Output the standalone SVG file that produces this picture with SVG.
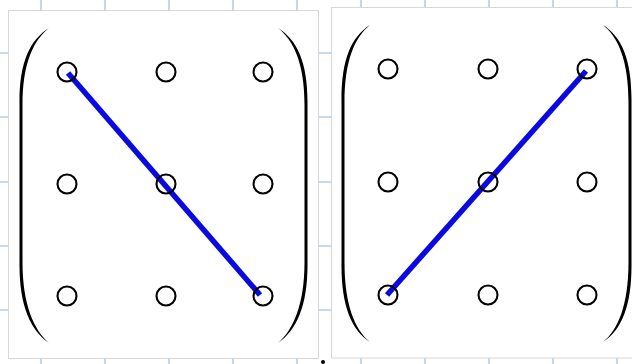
<svg xmlns="http://www.w3.org/2000/svg" width="632" height="364" viewBox="0 0 632 364">
<style>
.grid line{stroke:#b7cee0;stroke-width:1.6}
.box{fill:#fff;stroke:#d4d8dc;stroke-width:1}
.pin{fill:none;stroke:#000;stroke-width:2.1}
.paren{fill:#000}
.link{stroke:#0a0ae0;stroke-width:5.5;stroke-linecap:butt}
</style>
<rect width="632" height="364" fill="#fff"/>
<g class="grid">
<line x1="41" y1="0" x2="41" y2="364"/><line x1="105" y1="0" x2="105" y2="364"/><line x1="169" y1="0" x2="169" y2="364"/><line x1="233" y1="0" x2="233" y2="364"/><line x1="297" y1="0" x2="297" y2="364"/><line x1="361" y1="0" x2="361" y2="364"/><line x1="425" y1="0" x2="425" y2="364"/><line x1="489" y1="0" x2="489" y2="364"/><line x1="553" y1="0" x2="553" y2="364"/><line x1="617" y1="0" x2="617" y2="364"/>
<line x1="0" y1="53" x2="632" y2="53"/><line x1="0" y1="117" x2="632" y2="117"/><line x1="0" y1="182" x2="632" y2="182"/><line x1="0" y1="246" x2="632" y2="246"/><line x1="0" y1="310" x2="632" y2="310"/>
</g>
<rect class="box" x="8.5" y="10.5" width="310" height="348"/>
<rect class="box" x="331.5" y="7.5" width="310" height="350.5"/>
<circle cx="323" cy="362" r="2" fill="#000"/>
<g id="parens-left">
<path class="paren" d="M49,28 C30,40 19,62 19.5,105 L19.5,262 C19,305 30,330 49,343 C34,330 22.5,305 22.5,262 L22.5,105 C22.5,62 34,40 49,28 Z"/>
<path class="paren" d="M278,28 C297,40 308,62 307.5,105 L307.5,262 C308,305 297,330 278,343 C293,330 304.5,305 304.5,262 L304.5,105 C304.5,62 293,40 278,28 Z"/>
</g>
<g id="parens-right">
<path class="paren" d="M370,25 C351,37 341,60 341.5,103 L341.5,262 C341,305 351,330 370,342 C355,330 344.5,305 344.5,262 L344.5,103 C344.5,60 355,37 370,25 Z"/>
<path class="paren" d="M603,25 C622,37 632,60 631.5,103 L631.5,262 C632,305 622,330 603,342 C618,330 628.5,305 628.5,262 L628.5,103 C628.5,60 618,37 603,25 Z"/>
</g>
<g id="connectors">
<line class="link" x1="68" y1="73" x2="260" y2="295"/>
<line class="link" x1="387" y1="295" x2="586" y2="71"/>
</g>
<g id="L11"><circle class="pin" cx="67" cy="72" r="9.5"/></g>
<g id="L12"><circle class="pin" cx="166" cy="72" r="9.5"/></g>
<g id="L13"><circle class="pin" cx="263" cy="72" r="9.5"/></g>
<g id="L21"><circle class="pin" cx="67" cy="184" r="9.5"/></g>
<g id="L22"><circle class="pin" cx="166" cy="184" r="9.5"/></g>
<g id="L23"><circle class="pin" cx="263" cy="184" r="9.5"/></g>
<g id="L31"><circle class="pin" cx="67" cy="296" r="9.5"/></g>
<g id="L32"><circle class="pin" cx="166" cy="296" r="9.5"/></g>
<g id="L33"><circle class="pin" cx="263" cy="296" r="9.5"/></g>
<g id="R11"><circle class="pin" cx="388" cy="69" r="9.5"/></g>
<g id="R12"><circle class="pin" cx="488" cy="69" r="9.5"/></g>
<g id="R13"><circle class="pin" cx="587" cy="69" r="9.5"/></g>
<g id="R21"><circle class="pin" cx="388" cy="182" r="9.5"/></g>
<g id="R22"><circle class="pin" cx="488" cy="182" r="9.5"/></g>
<g id="R23"><circle class="pin" cx="587" cy="182" r="9.5"/></g>
<g id="R31"><circle class="pin" cx="388" cy="295" r="9.5"/></g>
<g id="R32"><circle class="pin" cx="488" cy="295" r="9.5"/></g>
<g id="R33"><circle class="pin" cx="587" cy="295" r="9.5"/></g>
</svg>
